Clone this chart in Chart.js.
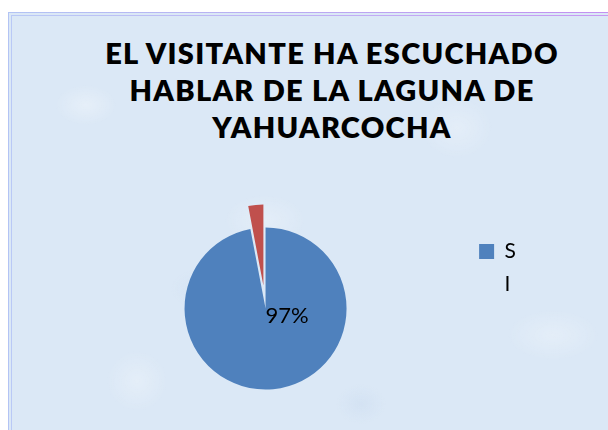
<!DOCTYPE html>
<html>
<head>
<meta charset="utf-8">
<script src="https://cdn.jsdelivr.net/npm/chart.js@4"></script>
<style>
  body { margin: 0; width: 608px; height: 430px; overflow: hidden; background: #fff; position: relative; font-family: Lato, sans-serif; }
  #frame {
    position: absolute; left: 8px; top: 12px; width: 640px; height: 460px;
    border: 1.5px solid; border-image: linear-gradient(90deg, #b3c4f4, #c48cf0) 1;
    background:
      radial-gradient(ellipse 30px 20px at 12% 20%, rgba(255,255,255,.3), transparent),
      radial-gradient(ellipse 40px 25px at 40% 45%, rgba(255,255,255,.25), transparent),
      radial-gradient(ellipse 35px 30px at 70% 25%, rgba(255,255,255,.25), transparent),
      radial-gradient(ellipse 45px 25px at 85% 70%, rgba(255,255,255,.25), transparent),
      radial-gradient(ellipse 30px 30px at 20% 80%, rgba(255,255,255,.25), transparent),
      radial-gradient(ellipse 25px 20px at 55% 85%, rgba(195,213,236,.3), transparent),
      radial-gradient(ellipse 30px 20px at 30% 60%, rgba(195,213,236,.25), transparent),
      #dbe8f6;
  }
  #frame::after {
    content: ''; position: absolute; left: 2px; top: 2px; right: 0; bottom: 0;
    border: 1px solid; border-image: linear-gradient(90deg, #b9c9f6, #c893f2) 1;
  }
  #title {
    position: absolute; left: 32px; top: 34px; width: 600px; text-align: center;
    font: 800 29px/37px Lato, sans-serif; letter-spacing: 1.3px; color: #000;
  }
  canvas { position: absolute; left: 0; top: 0; }
</style>
</head>
<body>
<div id="frame"></div>
<div id="title">EL VISITANTE HA ESCUCHADO<br>HABLAR DE LA LAGUNA DE<br>YAHUARCOCHA</div>
<canvas id="pieChart" width="608" height="430"></canvas>
<script>
const categories = ['S', 'I'];
const values = [97, 3];
const colors = ['#4f81bd', '#c0504d'];

// the small slice is pulled out of the pie, as in the original
const EXPLODE = 23;

const explodePlugin = {
    id: 'explode',
    afterDatasetUpdate(chart, args) {
        const arc = args.meta.data[1];
        if (!arc) return;
        const mid = (arc.startAngle + arc.endAngle) / 2;
        arc.x += Math.cos(mid) * EXPLODE;
        arc.y += Math.sin(mid) * EXPLODE;
    }
};

const labelPlugin = {
    id: 'sliceLabel',
    afterDatasetsDraw(chart) {
        const ctx = chart.ctx;
        const arc = chart.getDatasetMeta(0).data[0];
        const total = values.reduce((a, b) => a + b, 0);
        ctx.save();
        ctx.font = '22px Lato';
        ctx.fillStyle = '#000';
        ctx.textBaseline = 'alphabetic';
        ctx.fillText(Math.round(values[0] / total * 100) + '%', arc.x, arc.y + 14);
        ctx.restore();
    }
};

Chart.defaults.font.family = 'Lato';

new Chart(document.getElementById('pieChart'), {
    type: 'pie',
    data: {
        labels: categories,
        datasets: [{
            data: values,
            backgroundColor: colors,
            borderWidth: 0
        }]
    },
    options: {
        responsive: false,
        animation: false,
        radius: 81,
        layout: {padding: {left: 64, right: 82, top: 229, bottom: 42}},
        plugins: {
            tooltip: {enabled: false},
            legend: {
                position: 'right',
                align: 'start',
                labels: {
                    boxWidth: 15,
                    boxHeight: 15,
                    padding: 12,
                    color: '#000',
                    font: {size: 21},
                    generateLabels(chart) {
                        const items = Chart.overrides.pie.plugins.legend.labels.generateLabels(chart);
                        // "I" has no colour box in the original legend
                        items[1].fillStyle = 'rgba(0,0,0,0)';
                        items[1].strokeStyle = 'rgba(0,0,0,0)';
                        return items;
                    }
                }
            }
        }
    },
    plugins: [explodePlugin, labelPlugin]
});
</script>
</body>
</html>
